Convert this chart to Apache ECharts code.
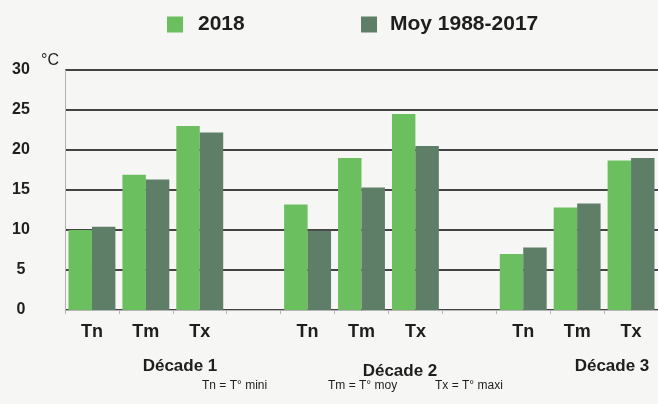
<!DOCTYPE html>
<html>
<head>
<meta charset="utf-8">
<script src="https://cdn.jsdelivr.net/npm/echarts@6/dist/echarts.min.js"></script>
<style>
html,body{margin:0;padding:0;background:#f6f6f4;}
#c{width:658px;height:404px;}
</style>
</head>
<body>
<div id="c"></div>
<script>
var categories = ['Tn', 'Tm', 'Tx', '', 'Tn', 'Tm', 'Tx', '', 'Tn', 'Tm', 'Tx'];
var values2018 = [10.0, 16.9, 23.0, null, 13.2, 19.0, 24.5, null, 7.0, 12.8, 18.7];
var valuesMoy = [10.4, 16.3, 22.2, null, 9.9, 15.3, 20.5, null, 7.8, 13.3, 19.0];
var yTicks = [0, 5, 10, 15, 20, 25, 30];
var decades = ['Décade 1', 'Décade 2', 'Décade 3'];
var notes = ['Tn = T° mini', 'Tm = T° moy', 'Tx = T° maxi'];
var seriesNames = ['2018', 'Moy 1988-2017'];

var FONT = '"Liberation Sans", Arial, sans-serif';
var TXT = '#1e1e1e';
var GREEN = '#6cbf5f';
var DARK = '#5f7e67';

var chart = echarts.init(document.getElementById('c'));
chart.setOption({
  backgroundColor: '#f6f6f4',
  animation: false,
  legend: [
    { data: [seriesNames[0]], left: 167, top: 14, padding: 0, icon: 'rect', itemWidth: 16, itemHeight: 16,
      textStyle: { fontFamily: FONT, fontWeight: 'bold', fontSize: 21, color: TXT, padding: [0, 0, 0, 10] } },
    { data: [seriesNames[1]], left: 361, top: 14, padding: 0, icon: 'rect', itemWidth: 16, itemHeight: 16,
      textStyle: { fontFamily: FONT, fontWeight: 'bold', fontSize: 21, color: TXT, padding: [0, 0, 0, 8] } }
  ],
  grid: { left: 65, right: 0, top: 70, bottom: 94, containLabel: false },
  xAxis: {
    type: 'category',
    data: categories,
    boundaryGap: true,
    axisLine: { show: true, lineStyle: { color: '#b5b5b5', width: 1 } },
    axisTick: { show: true, length: 4, lineStyle: { color: '#b5b5b5' } },
    axisLabel: { fontFamily: FONT, fontWeight: 'bold', fontSize: 18, color: TXT, margin: 13, interval: 0 }
  },
  yAxis: {
    type: 'value',
    min: yTicks[0],
    max: yTicks[yTicks.length - 1],
    interval: 5,
    axisLine: { show: true, lineStyle: { color: '#b0b0b0', width: 1 } },
    axisTick: { show: false },
    axisLabel: { fontFamily: FONT, fontWeight: 'bold', fontSize: 16, color: TXT, align: 'center', margin: 44 },
    splitLine: { show: true, lineStyle: { color: '#444444', width: 2 } }
  },
  series: [
    { name: seriesNames[0], type: 'bar', data: values2018, barGap: '0%', barCategoryGap: '13%',
      itemStyle: { color: GREEN }, z: 3 },
    { name: seriesNames[1], type: 'bar', data: valuesMoy, barGap: '0%', barCategoryGap: '13%',
      itemStyle: { color: DARK }, z: 3 }
  ],
  graphic: [
    { type: 'text', x: 50, y: 61, style: { text: '°C', fontFamily: FONT, fontSize: 16, fill: TXT, align: 'center', verticalAlign: 'middle' } },
    { type: 'text', x: 180, y: 366, style: { text: decades[0], fontFamily: FONT, fontWeight: 'bold', fontSize: 17, fill: TXT, align: 'center', verticalAlign: 'middle' } },
    { type: 'text', x: 400, y: 371, style: { text: decades[1], fontFamily: FONT, fontWeight: 'bold', fontSize: 17, fill: TXT, align: 'center', verticalAlign: 'middle' } },
    { type: 'text', x: 612, y: 366, style: { text: decades[2], fontFamily: FONT, fontWeight: 'bold', fontSize: 17, fill: TXT, align: 'center', verticalAlign: 'middle' } },
    { type: 'text', x: 202, y: 386, style: { text: notes[0], fontFamily: FONT, fontSize: 12, fill: TXT, align: 'left', verticalAlign: 'middle' } },
    { type: 'text', x: 328, y: 386, style: { text: notes[1], fontFamily: FONT, fontSize: 12, fill: TXT, align: 'left', verticalAlign: 'middle' } },
    { type: 'text', x: 435, y: 386, style: { text: notes[2], fontFamily: FONT, fontSize: 12, fill: TXT, align: 'left', verticalAlign: 'middle' } }
  ]
});
</script>
</body>
</html>
